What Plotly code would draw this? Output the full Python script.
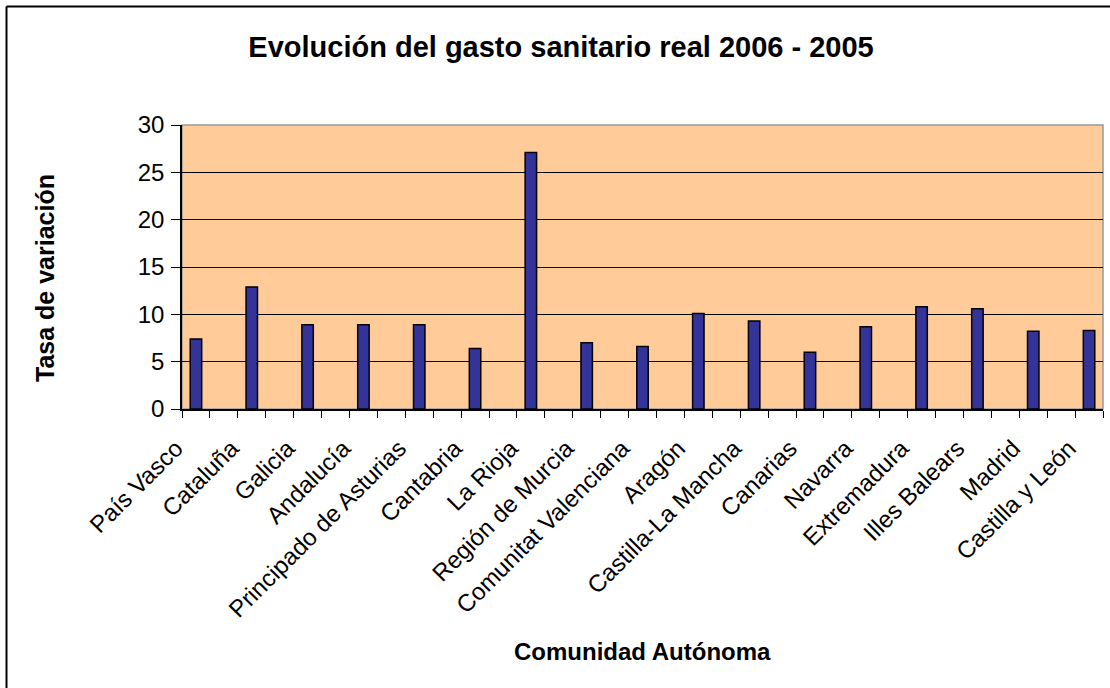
import plotly.graph_objects as go

categories = ["País Vasco", "Cataluña", "Galicia", "Andalucía", "Principado de Asturias",
              "Cantabria", "La Rioja", "Región de Murcia", "Comunitat Valenciana", "Aragón",
              "Castilla-La Mancha", "Canarias", "Navarra", "Extremadura", "Illes Balears",
              "Madrid", "Castilla y León"]
values = [7.4, 12.9, 8.9, 8.9, 8.9, 6.4, 27.1, 7.0, 6.6, 10.1, 9.3, 6.0, 8.7, 10.8, 10.6, 8.2, 8.3]

W, H = 1110, 688
L, R, T, B = 182, 7, 125, 279
pw, ph = W - L - R, H - T - B

xpos = [2 * i for i in range(len(categories))]
n_slots = 2 * len(categories) - 1

fig = go.Figure(go.Bar(
    x=xpos, y=values, width=0.41,
    marker=dict(color="#333399", line=dict(color="black", width=1.5)),
))

font_main = "Liberation Sans, Arial, sans-serif"

def px2paper_x(px):
    return (px - L) / pw

def px2paper_y(py):
    return (H - B - py) / ph

fig.update_layout(
    width=W, height=H,
    margin=dict(l=L, r=R, t=T, b=B, autoexpand=False),
    paper_bgcolor="white", plot_bgcolor="#FFCC99",
    showlegend=False,
    font=dict(family=font_main, color="black"),
    title=dict(text="<b>Evolución del gasto sanitario real 2006 - 2005</b>",
               x=561 / W, xanchor="center", y=1 - 47 / H, yanchor="middle",
               font=dict(size=29, family=font_main, color="black")),
    xaxis=dict(
        range=[-0.5, n_slots - 0.5],
        tickmode="array", tickvals=xpos, ticktext=categories,
        tickangle=-45, ticks="", tickfont=dict(size=24),
        ticklabelstandoff=14, ticklabelshift=-20,
        showline=True, linecolor="black", linewidth=1.5,
        showgrid=False, zeroline=False,
        minor=dict(tickmode="array", tickvals=[k - 0.5 for k in range(n_slots + 1)],
                   ticks="outside", ticklen=7, tickcolor="black", tickwidth=1, showgrid=False),
        fixedrange=True,
    ),
    yaxis=dict(
        range=[0, 30], dtick=5, tick0=0,
        ticks="outside", ticklen=9, tickcolor="black",
        tickfont=dict(size=24), ticklabelstandoff=2,
        showline=True, linecolor="black", linewidth=1.5,
        showgrid=True, gridcolor="black", gridwidth=1,
        zeroline=False,
    ),
    annotations=[
        dict(text="<b>Comunidad Autónoma</b>", xref="paper", yref="paper",
             x=0.5, y=px2paper_y(651), xanchor="center", yanchor="middle",
             showarrow=False, font=dict(size=24)),
        dict(text="<b>Tasa de variación</b>", xref="paper", yref="paper",
             x=px2paper_x(45), y=px2paper_y(278), xanchor="center", yanchor="middle",
             textangle=-90, showarrow=False, font=dict(size=25)),
    ],
    shapes=[
        dict(type="rect", xref="x domain", yref="y domain", x0=0, x1=1, y0=0, y1=1,
             line=dict(color="#999999", width=1.5), layer="below"),
        dict(type="line", xref="paper", yref="paper",
             x0=px2paper_x(6.5), x1=px2paper_x(W + 5), y0=px2paper_y(6.5), y1=px2paper_y(6.5),
             line=dict(color="black", width=2)),
        dict(type="line", xref="paper", yref="paper",
             x0=px2paper_x(6.5), x1=px2paper_x(6.5), y0=px2paper_y(6.5), y1=px2paper_y(H + 5),
             line=dict(color="black", width=2)),
    ],
)

fig.write_html("out.html", config={"displayModeBar": False},
               post_script="document.body.style.margin='0';document.body.style.overflow='hidden';")
